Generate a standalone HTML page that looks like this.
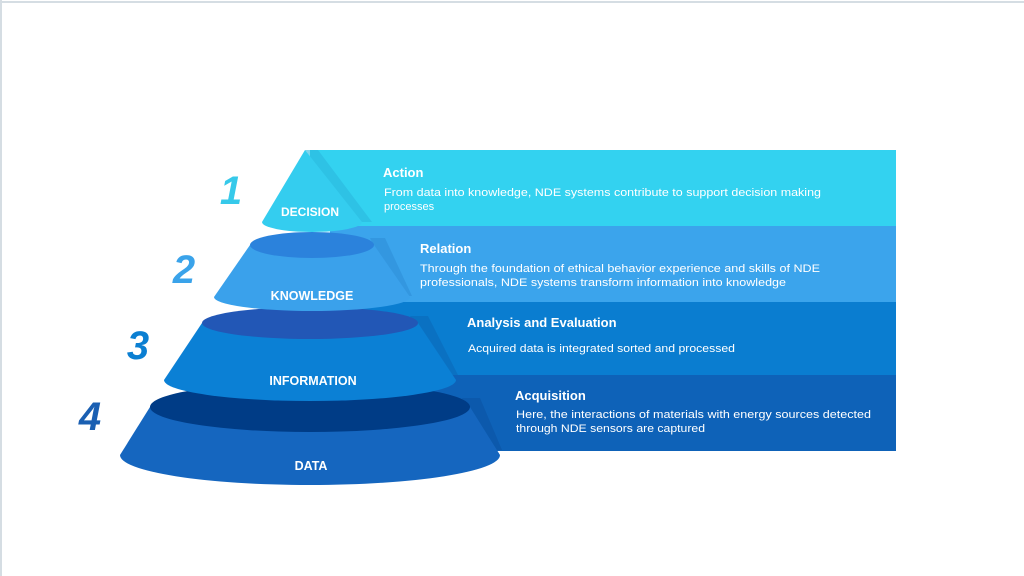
<!DOCTYPE html>
<html><head><meta charset="utf-8"><style>
html,body{margin:0;padding:0;background:#fff;width:1024px;height:576px;overflow:hidden}
svg{display:block}
text{font-family:"Liberation Sans",sans-serif}
</style></head><body>
<svg width="1024" height="576" viewBox="0 0 1024 576" xmlns="http://www.w3.org/2000/svg">
<rect x="0" y="0" width="1024" height="576" fill="#fff"/>
<line x1="0" y1="2" x2="1024" y2="2" stroke="#d5dde3" stroke-width="2"/>
<line x1="1" y1="0" x2="1" y2="576" stroke="#d5dde3" stroke-width="2"/>
<!-- bands -->
<rect x="310" y="150" width="586" height="77" fill="#33d2f0"/>
<rect x="330" y="226" width="566" height="77" fill="#3ba4ec"/>
<rect x="330" y="302" width="566" height="74" fill="#0a7dd0"/>
<rect x="330" y="375" width="566" height="76" fill="#0e62b8"/>
<!-- slanted shadow edges -->
<polygon points="305,150 318,150 372,222 358,222" fill="#2bb8de" opacity="0.6"/>
<polygon points="370,238 385,238 412,296 398,296" fill="#2f8fd8" opacity="0.6"/>
<polygon points="410,316 428,316 458,375 440,375" fill="#0a6cbc" opacity="0.7"/>
<polygon points="462,398 480,398 502,450 484,450" fill="#0c56a6" opacity="0.7"/>
<!-- cone 4 -->
<path d="M150,407 L120,455 A190,30 0 0 0 500,455 L470,407 Z" fill="#1566bf"/>
<ellipse cx="310" cy="407" rx="160" ry="25" fill="#003c86"/>
<!-- cone 3 -->
<path d="M202,323 L164,380 A146,21 0 0 0 456,380 L418,323 Z" fill="#0b80d5"/>
<ellipse cx="310" cy="323" rx="108" ry="16" fill="#2257b6"/>
<!-- cone 2 -->
<path d="M250,245 L214,297 A98,14 0 0 0 410,297 L374,245 Z" fill="#3aa1eb"/>
<ellipse cx="312" cy="245" rx="62" ry="13" fill="#2b82dc"/>
<!-- cone 1 -->
<path d="M305,150 L262,222 A50,10 0 0 0 362,222 Z" fill="#34cdef"/>
<!-- cone labels -->
<g fill="#fff" font-weight="bold" text-anchor="middle">
<text x="310" y="216" font-size="12">DECISION</text>
<text x="312" y="300" font-size="12.5">KNOWLEDGE</text>
<text x="313" y="385" font-size="12.5">INFORMATION</text>
<text x="311" y="470" font-size="12.5">DATA</text>
</g>
<!-- numbers -->
<g font-weight="bold" font-style="italic" font-size="40" text-anchor="middle">
<text x="231" y="204" fill="#36c9ea">1</text>
<text x="184" y="283" fill="#3aa3ea">2</text>
<text x="138" y="359" fill="#0b7fd2">3</text>
<text x="90" y="430" fill="#1a5fb2">4</text>
</g>
<!-- band text -->
<g fill="#fff">
<text x="383" y="177" font-size="13" font-weight="bold">Action</text>
<text x="384" y="196" font-size="11" textLength="437" lengthAdjust="spacingAndGlyphs">From data into knowledge, NDE systems contribute to support decision making</text>
<text x="384" y="210" font-size="11">processes</text>
<text x="420" y="253" font-size="13" font-weight="bold">Relation</text>
<text x="420" y="272" font-size="11" textLength="400" lengthAdjust="spacingAndGlyphs">Through the foundation of ethical behavior experience and skills of NDE</text>
<text x="420" y="286" font-size="11" textLength="366" lengthAdjust="spacingAndGlyphs">professionals, NDE systems transform information into knowledge</text>
<text x="467" y="327" font-size="13" font-weight="bold">Analysis and Evaluation</text>
<text x="468" y="352" font-size="11" textLength="267" lengthAdjust="spacingAndGlyphs">Acquired data is integrated sorted and processed</text>
<text x="515" y="400" font-size="13" font-weight="bold">Acquisition</text>
<text x="516" y="418" font-size="11" textLength="355" lengthAdjust="spacingAndGlyphs">Here, the interactions of materials with energy sources detected</text>
<text x="516" y="432" font-size="11" textLength="189" lengthAdjust="spacingAndGlyphs">through NDE sensors are captured</text>
</g>
</svg>
</body></html>
